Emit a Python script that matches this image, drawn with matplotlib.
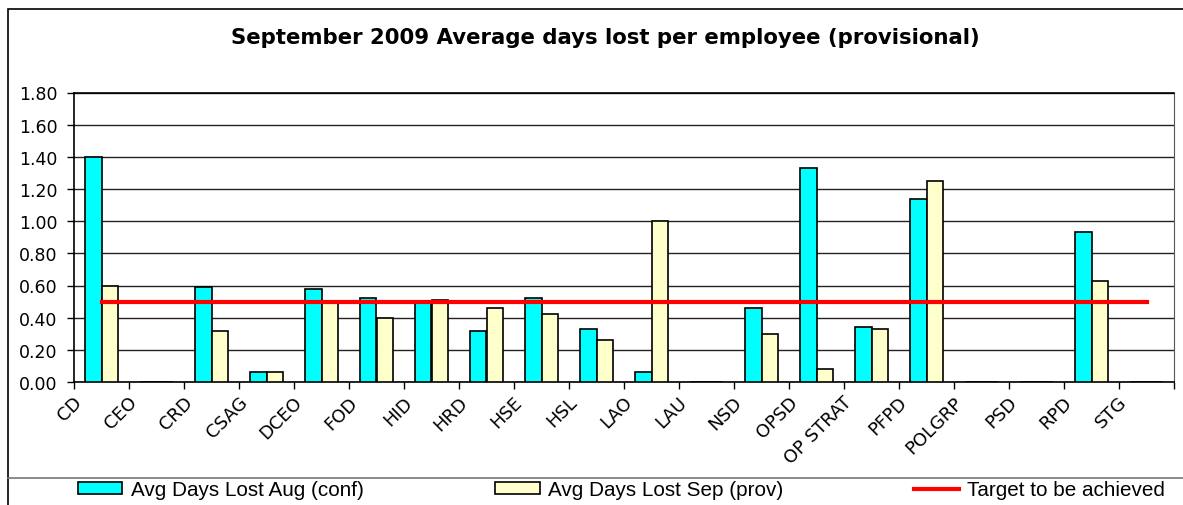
import numpy as np
import matplotlib.pyplot as plt
from matplotlib.patches import Rectangle
from matplotlib.lines import Line2D
import matplotlib.transforms as mtransforms

# donnees
departements = ["CD", "CEO", "CRD", "CSAG", "DCEO", "FOD", "HID", "HRD", "HSE", "HSL",
                "LAO", "LAU", "NSD", "OPSD", "OP STRAT", "PFPD", "POLGRP", "PSD", "RPD", "STG"]
aout = [1.40, 0, 0.59, 0.06, 0.58, 0.52, 0.50, 0.32, 0.52, 0.33,
        0.06, 0, 0.46, 1.33, 0.34, 1.14, 0, 0, 0.93, 0]
sept = [0.60, 0, 0.32, 0.06, 0.50, 0.40, 0.51, 0.46, 0.42, 0.26,
        1.00, 0, 0.30, 0.08, 0.33, 1.25, 0, 0, 0.63, 0]
cible = [0.5] * len(departements)
y_ticks = [0.0, 0.2, 0.4, 0.6, 0.8, 1.0, 1.2, 1.4, 1.6, 1.8]

W, H = 1183, 506
fig = plt.figure(figsize=(W / 100, H / 100), dpi=100)
ax = fig.add_axes([74 / W, 1 - 383 / H, 1100 / W, (383 - 93.5) / H])

x = np.arange(len(departements))
larg = 0.3
ax.bar(x - larg / 2, aout, larg, color="#00FFFF", edgecolor="black", linewidth=1.2, zorder=3)
ax.bar(x + larg / 2, sept, larg, color="#FFFFCC", edgecolor="black", linewidth=1.2, zorder=3)
ax.plot(x, cible, color="#FF0000", linewidth=3, zorder=4)

ax.set_xlim(-0.5, len(departements) - 0.5)
ax.set_ylim(0, 1.8)
ax.set_yticks(y_ticks)
ax.set_yticklabels(["%.2f" % v for v in y_ticks], fontfamily="DejaVu Sans", fontsize=12.5)
ax.tick_params(axis="y", length=5, width=1, pad=7)
ax.grid(axis="y", color="#222222", linewidth=1, zorder=0)

# graduations entre les categories, etiquettes au centre
ax.set_xticks(x)
ax.set_xticks(np.arange(-0.5, len(departements)), minor=True)
ax.tick_params(axis="x", which="major", length=0, pad=0)
ax.tick_params(axis="x", which="minor", length=5, width=1)
ax.set_xticklabels(departements, fontfamily="DejaVu Sans", fontsize=13, rotation=45,
                   ha="right", va="center", rotation_mode="anchor")
decal = mtransforms.ScaledTranslation(-22 / 100, -17 / 100, fig.dpi_scale_trans)
for lab in ax.get_xticklabels():
    lab.set_transform(lab.get_transform() + decal)

for s in ["left", "bottom", "top"]:
    ax.spines[s].set_color("black")
    ax.spines[s].set_linewidth(1.2)
ax.spines["right"].set_color("#555555")

fig.text(605 / W, 1 - 38 / H, "September 2009 Average days lost per employee (provisional)",
         fontfamily="DejaVu Sans", fontweight="bold", fontsize=15.3, ha="center", va="center")

# cadre exterieur et separation de la legende
fig.patches.append(Rectangle((8 / W, -0.1), 1.2, 1 - 10 / H + 0.1, transform=fig.transFigure,
                             fill=False, edgecolor="black", linewidth=1.2))
fig.lines.append(Line2D([8 / W, 1], [1 - 479 / H, 1 - 479 / H], transform=fig.transFigure,
                        color="#777777", linewidth=1.2))

poignees = [Rectangle((0, 0), 1, 1, facecolor="#00FFFF", edgecolor="black", linewidth=1.2),
            Rectangle((0, 0), 1, 1, facecolor="#FFFFCC", edgecolor="black", linewidth=1.2),
            Line2D([], [], color="#FF0000", linewidth=3)]
fig.legend(poignees, ["Avg Days Lost Aug (conf)", "Avg Days Lost Sep (prov)", "Target to be achieved"],
           loc="center left", bbox_to_anchor=(78 / W, 1 - 491 / H), ncol=3, frameon=False,
           prop={"family": "Liberation Sans", "size": 14.9}, borderpad=0, borderaxespad=0,
           handlelength=2.15, handleheight=0.48, handletextpad=0.4, columnspacing=6.35)

fig.savefig("out.png", dpi=100)
